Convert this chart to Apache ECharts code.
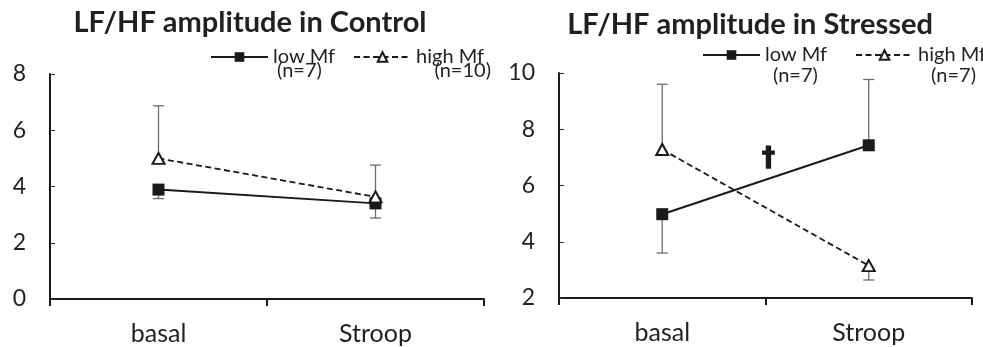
<!DOCTYPE html>
<html>
<head>
<meta charset="utf-8">
<script src="https://cdn.jsdelivr.net/npm/echarts@6/dist/echarts.min.js"></script>
<style>html,body{margin:0;padding:0;background:#fff;}#c{width:983px;height:347px;}</style>
</head>
<body>
<div id="c"></div>
<script>
const categories = ['basal', 'Stroop'];
const titles = ['LF/HF amplitude in Control', 'LF/HF amplitude in Stressed'];
const seriesNames = ['low Mf', 'high Mf'];
const nLabelsControl = ['(n=7)', '(n=10)'];
const nLabelsStressed = ['(n=7)', '(n=7)'];

const controlLow = [3.89, 3.40];
const controlLowErr = [-0.32, -0.52];
const controlHigh = [5.00, 3.63];
const controlHighErr = [1.87, 1.13];

const stressedLow = [4.98, 7.43];
const stressedLowErr = [-1.38, 2.34];
const stressedHigh = [7.28, 3.15];
const stressedHighErr = [2.32, -0.51];

const controlTicks = {min: 0, max: 8, interval: 2};
const stressedTicks = {min: 2, max: 10, interval: 2};
// dagger sits between category 0 and 1 at this value
const daggerMark = [0, 1, 6.95];

const FONT = 'Lato';
const INK = '#231f20';

function errData(vals, errs) {
  return vals.map((v, i) => [i, v, errs[i]]);
}
function errorSeries(idx, vals, errs) {
  return {
    type: 'custom', xAxisIndex: idx, yAxisIndex: idx, z: 1, silent: true,
    encode: {x: 0, y: 1},
    data: errData(vals, errs),
    renderItem: function (params, api) {
      const x = api.value(0), y = api.value(1), e = api.value(2);
      const p0 = api.coord([x, y]);
      const p1 = api.coord([x, y + e]);
      const hw = 5.5;
      const st = {stroke: '#6d6d6d', lineWidth: 1.3};
      return {type: 'group', children: [
        {type: 'line', shape: {x1: p0[0], y1: p0[1], x2: p1[0], y2: p1[1]}, style: st},
        {type: 'line', shape: {x1: p1[0] - hw, y1: p1[1], x2: p1[0] + hw, y2: p1[1]}, style: st}
      ]};
    }
  };
}
function lineSeries(idx, name, vals, dashed) {
  return {
    type: 'line', name: name, xAxisIndex: idx, yAxisIndex: idx, z: 3,
    data: vals,
    symbol: dashed ? 'emptyTriangle' : 'rect',
    symbolSize: dashed ? [12, 11] : 12,
    showAllSymbol: true,
    lineStyle: {color: '#1a1a1a', width: dashed ? 1.8 : 2, type: dashed ? [6, 3.5] : 'solid'},
    itemStyle: {color: '#1a1a1a', borderColor: '#1a1a1a', borderWidth: dashed ? 1.3 : 0}
  };
}
function xAxis(idx) {
  return {
    type: 'category', gridIndex: idx, data: categories,
    axisLine: {lineStyle: {color: '#1a1a1a', width: 2}},
    axisTick: {show: true, length: 7, lineStyle: {color: '#1a1a1a', width: 2}},
    axisLabel: {fontFamily: FONT, fontSize: 25, color: INK, margin: 22}
  };
}
function yAxis(idx, t) {
  return {
    type: 'value', gridIndex: idx, min: t.min, max: t.max, interval: t.interval,
    splitLine: {show: false},
    axisLine: {show: true, lineStyle: {color: '#1a1a1a', width: 2}},
    axisTick: {show: true, inside: true, length: 5, lineStyle: {color: '#333', width: 1}},
    axisLabel: {fontFamily: FONT, fontSize: 23, color: INK, margin: 24}
  };
}
function legend(left, top, gap) {
  return {
    left: left, top: top, width: 400, itemWidth: 57, itemHeight: 12, itemGap: gap,
    data: seriesNames, selectedMode: false, padding: 0,
    textStyle: {fontFamily: FONT, fontSize: 20, color: INK, padding: [0, 0, 0, 0]}
  };
}
function txt(x, y, s, size, bold, align) {
  return {type: 'text', x: x, y: y, silent: true,
    style: {text: s, fontFamily: FONT, fontSize: size, fontWeight: bold ? 'bold' : 'normal',
      fill: INK, textAlign: align || 'center', textVerticalAlign: 'middle'}};
}

const chart = echarts.init(document.getElementById('c'), null, {renderer: 'canvas'});
chart.setOption({
  animation: false,
  backgroundColor: '#fff',
  grid: [
    {left: 50, top: 74, right: 499, bottom: 48},
    {left: 559, top: 73, right: 11, bottom: 49}
  ],
  xAxis: [xAxis(0), xAxis(1)],
  yAxis: [yAxis(0, controlTicks), yAxis(1, stressedTicks)],
  legend: [legend(210, 47, 18), legend(702, 45, 28)],
  graphic: [
    txt(250, 23, titles[0], 29, true),
    txt(750, 25, titles[1], 29, true),
    txt(277, 71, nLabelsControl[0], 20, false, 'left'),
    txt(491, 71, nLabelsControl[1], 20, false, 'right'),
    txt(773, 76, nLabelsStressed[0], 20, false, 'left'),
    txt(976, 76, nLabelsStressed[1], 20, false, 'right')
  ],
  series: [
    errorSeries(0, controlLow, controlLowErr),
    errorSeries(0, controlHigh, controlHighErr),
    errorSeries(1, stressedLow, stressedLowErr),
    errorSeries(1, stressedHigh, stressedHighErr),
    lineSeries(0, seriesNames[0], controlLow, false),
    lineSeries(0, seriesNames[1], controlHigh, true),
    lineSeries(1, seriesNames[0], stressedLow, false),
    lineSeries(1, seriesNames[1], stressedHigh, true),
    {
      type: 'custom', xAxisIndex: 1, yAxisIndex: 1, silent: true, z: 4,
      data: [daggerMark],
      renderItem: function (params, api) {
        const a = api.coord([api.value(0), api.value(2)]);
        const b = api.coord([api.value(1), api.value(2)]);
        return {type: 'text', x: (a[0] + b[0]) / 2 + 3, y: a[1],
          style: {text: '\u2020', fontFamily: 'DejaVu Sans', fontWeight: 'bold', fontSize: 26,
            fill: '#1a1a1a', stroke: '#1a1a1a', lineWidth: 1.2,
            textAlign: 'center', textVerticalAlign: 'middle'}};
      }
    }
  ]
});
</script>
</body>
</html>
